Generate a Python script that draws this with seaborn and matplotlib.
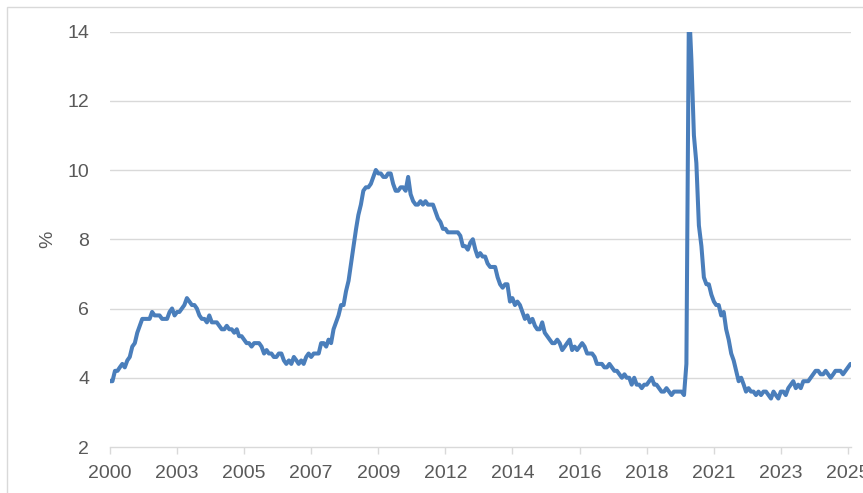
import matplotlib
matplotlib.use("Agg")
import matplotlib.pyplot as plt
import seaborn as sns
import pandas as pd
from matplotlib.patches import Rectangle

# US unemployment rate (%), monthly, Nov 2000 - Sep 2025
start_month = "2000-11-01"
rate = [
    3.9, 3.9,
    4.2, 4.2, 4.3, 4.4, 4.3, 4.5, 4.6, 4.9, 5.0, 5.3, 5.5, 5.7,
    5.7, 5.7, 5.7, 5.9, 5.8, 5.8, 5.8, 5.7, 5.7, 5.7, 5.9, 6.0,
    5.8, 5.9, 5.9, 6.0, 6.1, 6.3, 6.2, 6.1, 6.1, 6.0, 5.8, 5.7,
    5.7, 5.6, 5.8, 5.6, 5.6, 5.6, 5.5, 5.4, 5.4, 5.5, 5.4, 5.4,
    5.3, 5.4, 5.2, 5.2, 5.1, 5.0, 5.0, 4.9, 5.0, 5.0, 5.0, 4.9,
    4.7, 4.8, 4.7, 4.7, 4.6, 4.6, 4.7, 4.7, 4.5, 4.4, 4.5, 4.4,
    4.6, 4.5, 4.4, 4.5, 4.4, 4.6, 4.7, 4.6, 4.7, 4.7, 4.7, 5.0,
    5.0, 4.9, 5.1, 5.0, 5.4, 5.6, 5.8, 6.1, 6.1, 6.5, 6.8, 7.3,
    7.8, 8.3, 8.7, 9.0, 9.4, 9.5, 9.5, 9.6, 9.8, 10.0, 9.9, 9.9,
    9.8, 9.8, 9.9, 9.9, 9.6, 9.4, 9.4, 9.5, 9.5, 9.4, 9.8, 9.3,
    9.1, 9.0, 9.0, 9.1, 9.0, 9.1, 9.0, 9.0, 9.0, 8.8, 8.6, 8.5,
    8.3, 8.3, 8.2, 8.2, 8.2, 8.2, 8.2, 8.1, 7.8, 7.8, 7.7, 7.9,
    8.0, 7.7, 7.5, 7.6, 7.5, 7.5, 7.3, 7.2, 7.2, 7.2, 6.9, 6.7,
    6.6, 6.7, 6.7, 6.2, 6.3, 6.1, 6.2, 6.1, 5.9, 5.7, 5.8, 5.6,
    5.7, 5.5, 5.4, 5.4, 5.6, 5.3, 5.2, 5.1, 5.0, 5.0, 5.1, 5.0,
    4.8, 4.9, 5.0, 5.1, 4.8, 4.9, 4.8, 4.9, 5.0, 4.9, 4.7, 4.7,
    4.7, 4.6, 4.4, 4.4, 4.4, 4.3, 4.3, 4.4, 4.3, 4.2, 4.2, 4.1,
    4.0, 4.1, 4.0, 4.0, 3.8, 4.0, 3.8, 3.8, 3.7, 3.8, 3.8, 3.9,
    4.0, 3.8, 3.8, 3.7, 3.6, 3.6, 3.7, 3.6, 3.5, 3.6, 3.6, 3.6,
    3.6, 3.5, 4.4, 14.8, 13.2, 11.0, 10.2, 8.4, 7.8, 6.9, 6.7, 6.7,
    6.4, 6.2, 6.1, 6.1, 5.8, 5.9, 5.4, 5.1, 4.7, 4.5, 4.2, 3.9,
    4.0, 3.8, 3.6, 3.7, 3.6, 3.6, 3.5, 3.6, 3.5, 3.6, 3.6, 3.5,
    3.4, 3.6, 3.5, 3.4, 3.6, 3.6, 3.5, 3.7, 3.8, 3.9, 3.7, 3.8,
    3.7, 3.9, 3.9, 3.9, 4.0, 4.1, 4.2, 4.2, 4.1, 4.1, 4.2, 4.1,
    4.0, 4.1, 4.2, 4.2, 4.2, 4.1, 4.2, 4.3, 4.4,
]
tick_step = 27
tick_labels = ["2000", "2003", "2005", "2007", "2009", "2012",
               "2014", "2016", "2018", "2021", "2023", "2025"]
y_ticks = [2, 4, 6, 8, 10, 12, 14]

dates = pd.date_range(start_month, periods=len(rate), freq="MS")
df = pd.DataFrame({"date": dates, "rate": rate})

sns.set_theme(style="white")
plt.rcParams["font.family"] = ["Liberation Sans Narrow", "Liberation Sans", "DejaVu Sans"]

W, H = 863, 493
fig = plt.figure(figsize=(W / 100, H / 100), dpi=100)
left, right, top, bottom = 110, 850.5, 31.5, 447
ax = fig.add_axes([left / W, (H - bottom) / H, (right - left) / W, (bottom - top) / H])

grid_c = "#d9d9d9"
text_c = "#595959"

sns.lineplot(data=df, x="date", y="rate", ax=ax, color="#4a7ebb", linewidth=2.9)

ax.set_ylim(2, 14)
ax.set_xlim(dates[0], dates[-1])
ax.set_yticks(y_ticks)
ax.set_yticklabels([str(v) for v in y_ticks])
ax.set_xticks(dates[::tick_step])
ax.set_xticklabels(tick_labels)

for v in y_ticks[1:]:
    ax.axhline(v, color=grid_c, linewidth=1.0, zorder=0)

for s in ["top", "right", "left"]:
    ax.spines[s].set_visible(False)
ax.spines["bottom"].set_color(grid_c)
ax.spines["bottom"].set_linewidth(1.0)

ax.tick_params(axis="y", length=0, pad=15, labelsize=14, labelcolor=text_c)
ax.tick_params(axis="x", length=5, width=1.0, color=grid_c, direction="out",
               pad=8, labelsize=14, labelcolor=text_c, bottom=True)

ax.set_xlabel("")
ax.set_ylabel("%", fontsize=14, color=text_c)
ax.yaxis.set_label_coords((56 - left) / (right - left), 0.5)

# chart-area border (extends beyond the crop on the right and bottom)
fig.patches.append(Rectangle((7 / W, -0.1), 1.2, (H - 7) / H + 0.1,
                             transform=fig.transFigure, fill=False,
                             edgecolor=grid_c, linewidth=1.0))

fig.savefig("out.png", dpi=100, facecolor="white")
